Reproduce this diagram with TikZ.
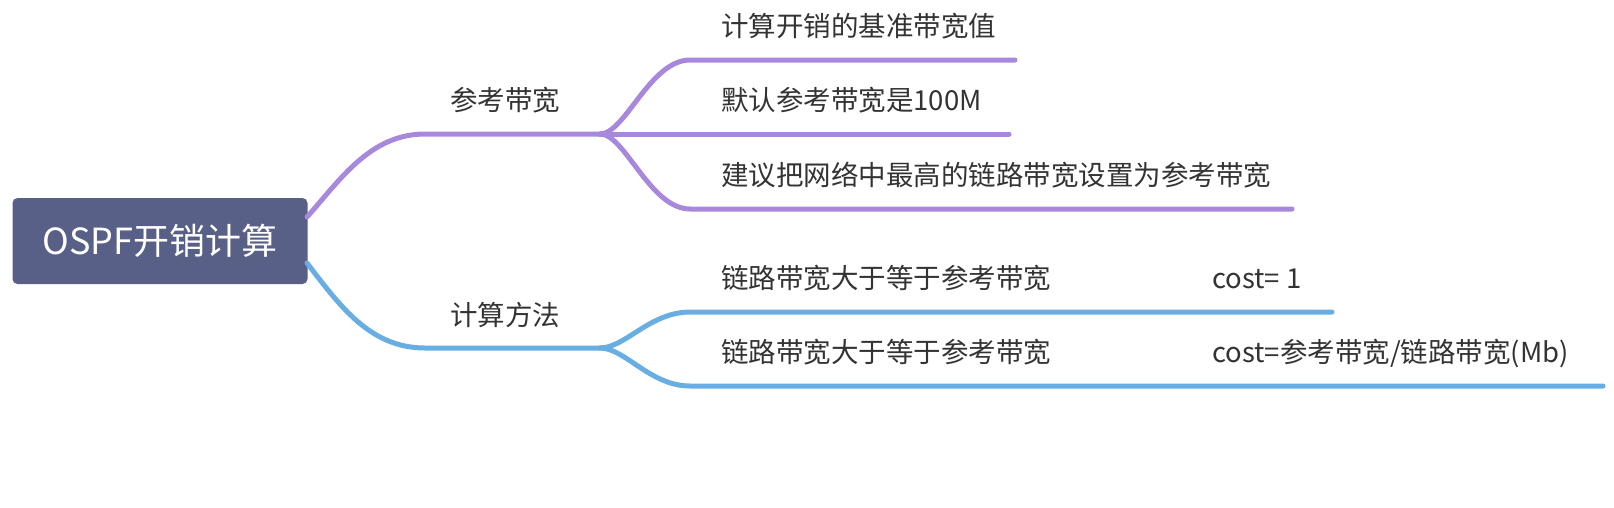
\documentclass[tikz,border=0pt]{standalone}
\usepackage{fontspec}
\newfontfamily\cjk{Noto Sans CJK SC}
\usetikzlibrary{positioning}

\definecolor{rootFill}{RGB}{89,96,136}
\definecolor{refColor}{RGB}{167,136,220}
\definecolor{calcColor}{RGB}{104,174,226}
\definecolor{textColor}{RGB}{51,51,51}

\begin{document}
\begin{tikzpicture}[x=1pt,y=-1pt,
        branch/.style={line width=5pt,line cap=round},
        topic/.style={font=\cjk\fontsize{27.5}{33}\selectfont,text=textColor,inner sep=0pt,text height=0.88em,text depth=0.12em},
        item/.style={topic,anchor=west}]
            \useasboundingbox (0,0) rectangle (1614,507);

            % Root node
            \node[fill=rootFill,rounded corners=5pt,minimum width=295pt,minimum height=86pt,text=white,font=\cjk\fontsize{36}{43}\selectfont] (root) at (160,241) {OSPF开销计算};

            % Branch labels
            \node[topic] (refLabel) at (505,107) {参考带宽};
            \node[topic] (calcLabel) at (505,322) {计算方法};

            % Upper branch items
            \node[item] (refItem1) at (721,33) {计算开销的基准带宽值};
            \node[item] (refItem2) at (721,107) {默认参考带宽是100M};
            \node[item] (refItem3) at (721,182) {建议把网络中最高的链路带宽设置为参考带宽};

            % Lower branch items
            \node[item] (calcItem1) at (721,285) {链路带宽大于等于参考带宽};
            \node[item] (costItem1) at (1212,285) {cost= 1};
            \node[item] (calcItem2) at (721,359) {链路带宽大于等于参考带宽};
            \node[item] (costItem2) at (1212,359) {cost=参考带宽/链路带宽(Mb)};

            % Upper branch invisible points
            \coordinate (refOut) at (307,217);
            \coordinate (refIn) at (425,134);
            \coordinate (refFork) at (600,134);
            \coordinate (refStart1) at (690,60);
            \coordinate (refEnd1) at (1015,60);
            \coordinate (refEnd2) at (1009,134);
            \coordinate (refStart3) at (690,209);
            \coordinate (refEnd3) at (1292,209);

            % Lower branch invisible points
            \coordinate (calcOut) at (307,263);
            \coordinate (calcIn) at (425,348);
            \coordinate (calcFork) at (600,348);
            \coordinate (calcStart1) at (690,312);
            \coordinate (calcEnd1) at (1332,312);
            \coordinate (calcStart2) at (690,386);
            \coordinate (calcEnd2) at (1603,386);

            % Upper branch lines
            \draw[branch,refColor] (refOut) .. controls (340,180) and (370,134) .. (refIn) -- (refFork);
            \draw[branch,refColor] (refFork) .. controls (625,134) and (650,60) .. (refStart1) -- (refEnd1);
            \draw[branch,refColor] (refFork) -- (refEnd2);
            \draw[branch,refColor] (refFork) .. controls (625,134) and (650,209) .. (refStart3) -- (refEnd3);

            % Lower branch lines
            \draw[branch,calcColor] (calcOut) .. controls (340,306) and (370,348) .. (calcIn) -- (calcFork);
            \draw[branch,calcColor] (calcFork) .. controls (625,348) and (650,312) .. (calcStart1) -- (calcEnd1);
            \draw[branch,calcColor] (calcFork) .. controls (625,348) and (650,386) .. (calcStart2) -- (calcEnd2);

        \end{tikzpicture}
\end{document}
